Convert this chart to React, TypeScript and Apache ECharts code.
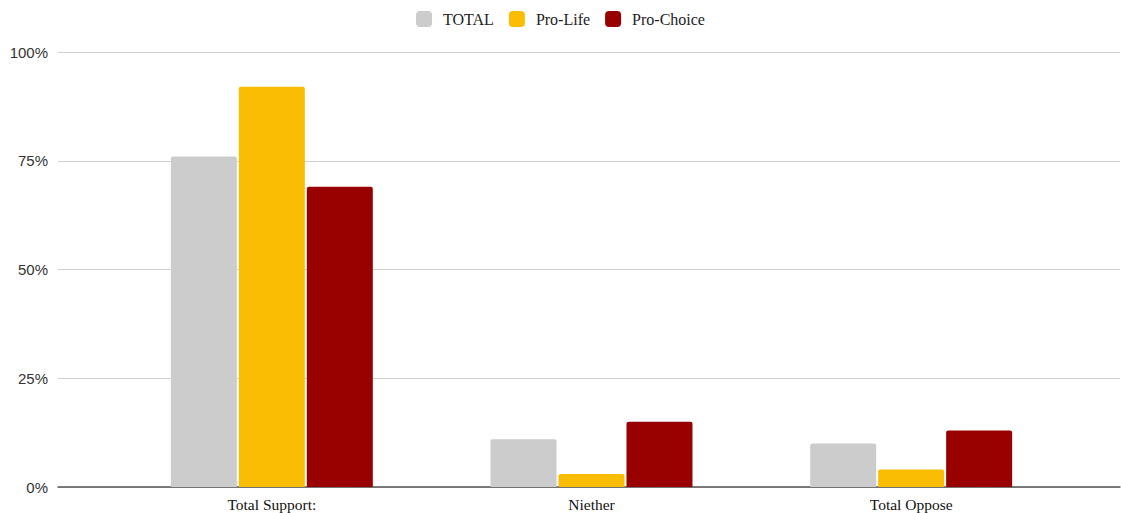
import React, { useEffect, useRef } from "react";
import * as echarts from "echarts";

const categories = ["Total Support:", "Niether", "Total Oppose"];
const totalValues = [76, 11, 10];
const proLifeValues = [92, 3, 4];
const proChoiceValues = [69, 15, 13];
const yTicks = [0, 25, 50, 75, 100];

export default function App() {
  const ref = useRef<HTMLDivElement>(null);
  useEffect(() => {
    document.body.style.margin = "0";
    const chart = echarts.init(ref.current!, null, { renderer: "svg" });
    const serif = "'Liberation Serif', 'Times New Roman', serif";
    const sans = "'Liberation Sans', Arial, sans-serif";
    const mk = (name: string, data: number[], color: string) => ({
      name,
      type: "bar",
      xAxisIndex: 1,
      yAxisIndex: 1,
      data,
      barWidth: 66,
      barGap: "3%",
      itemStyle: { color, borderRadius: [2, 2, 0, 0] },
    });
    chart.setOption({
      animation: false,
      backgroundColor: "#ffffff",
      legend: {
        top: 6,
        left: "center",
        itemWidth: 16,
        itemHeight: 16,
        itemGap: 15,
        icon: "roundRect",
        textStyle: { fontFamily: serif, fontSize: 16, color: "#222", padding: [0, 0, 0, 6] },
        data: ["TOTAL", "Pro-Life", "Pro-Choice"],
      },
      grid: [
        { left: 58, right: 1, top: 52, bottom: 26 },
        { left: 112, right: 50, top: 52, bottom: 26 },
      ],
      xAxis: [
        {
          gridIndex: 0,
          type: "category",
          data: [""],
          axisLine: { show: true, lineStyle: { color: "#555", width: 1.5 } },
          axisTick: { show: false },
          axisLabel: { show: false },
        },
        {
          gridIndex: 1,
          type: "category",
          data: categories,
          axisLine: { show: false },
          axisTick: { show: false },
          axisLabel: { fontFamily: serif, fontSize: 15.5, color: "#111", margin: 9 },
        },
      ],
      yAxis: [
        {
          gridIndex: 0,
          type: "value",
          min: yTicks[0],
          max: yTicks[yTicks.length - 1],
          interval: 25,
          axisLabel: {
            formatter: "{value}%",
            fontFamily: sans,
            fontSize: 15,
            color: "#333",
            margin: 10,
          },
          splitLine: { lineStyle: { color: "#d0d0d0", width: 1 } },
          axisLine: { show: false },
          axisTick: { show: false },
        },
        {
          gridIndex: 1,
          type: "value",
          min: 0,
          max: 100,
          interval: 25,
          show: false,
          splitLine: { show: false },
        },
      ],
      series: [
        mk("TOTAL", totalValues, "#cccccc"),
        mk("Pro-Life", proLifeValues, "#fbbc04"),
        mk("Pro-Choice", proChoiceValues, "#990000"),
      ],
    });
    return () => chart.dispose();
  }, []);
  return (
    <div
      ref={ref}
      style={{ position: "absolute", left: 0, top: 0, width: 1121, height: 513 }}
    />
  );
}
